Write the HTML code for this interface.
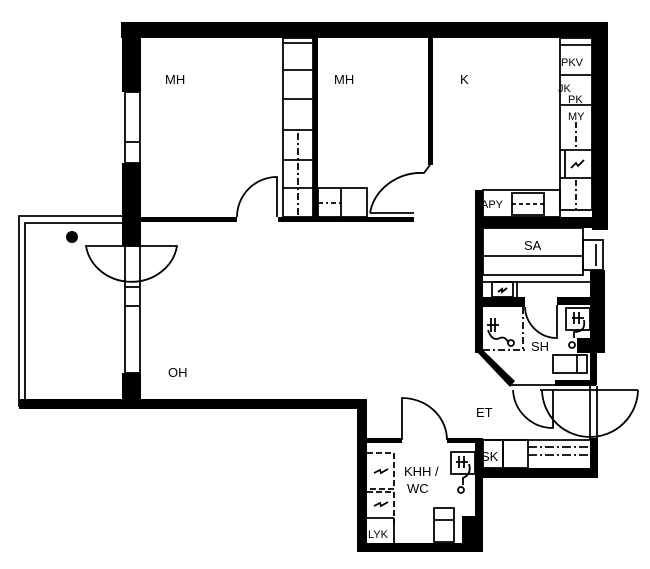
<!DOCTYPE html>
<html><head><meta charset="utf-8"><style>
html,body{margin:0;padding:0;background:#fff}
svg{display:block}
text{font-family:"Liberation Sans",sans-serif;fill:#000}
</style></head><body>
<svg width="650" height="569" viewBox="0 0 650 569" xmlns="http://www.w3.org/2000/svg">
<g fill="#000">
<rect x="121" y="22" width="487" height="16"/>
<rect x="592" y="22" width="16" height="208"/>
<rect x="122" y="22" width="19" height="70"/>
<rect x="122" y="163" width="19" height="83"/>
<rect x="122" y="373" width="19" height="36"/>
<rect x="19" y="399" width="348" height="10"/>
<rect x="140" y="217" width="97" height="5"/>
<rect x="278" y="217" width="136" height="5"/>
<rect x="313" y="38" width="5" height="182"/>
<rect x="428" y="38" width="5" height="127"/>
<rect x="475" y="217" width="133" height="11"/>
<rect x="475" y="190" width="8" height="163"/>
<rect x="590" y="270" width="15" height="83"/>
<rect x="577" y="338" width="28" height="15"/>
<rect x="590" y="353" width="7" height="32"/>
<rect x="483" y="297" width="42" height="10"/>
<rect x="557" y="297" width="33" height="8"/>
<rect x="555" y="380" width="41" height="6"/>
<polygon points="475,350 483,350 515,381 510,387"/>
<rect x="590" y="438" width="8" height="40"/>
<rect x="475" y="468" width="123" height="10"/>
<rect x="357" y="399" width="10" height="153"/>
<rect x="357" y="543" width="126" height="9"/>
<rect x="475" y="438" width="8" height="114"/>
<rect x="367" y="438" width="35" height="5"/>
<rect x="447" y="438" width="28" height="5"/>
<rect x="462" y="516" width="13" height="28"/>
<circle cx="72" cy="237" r="6"/>
</g>
<g fill="none" stroke="#000" stroke-width="1.8">
<polyline points="122,216 19,216 19,407"/>
<polyline points="122,223 25,223 25,400"/>
<rect x="125" y="92" width="15" height="71"/>
<line x1="125" y1="142" x2="140" y2="142"/>
<rect x="125" y="246" width="15" height="127"/>
<line x1="125" y1="287" x2="140" y2="287"/>
<line x1="125" y1="306" x2="140" y2="306"/>
<path d="M86,246 H177 A46,42 0 0 1 86,246 Z"/>
<rect x="337" y="24" width="70" height="12"/>
<line x1="390" y1="24" x2="390" y2="36"/>
<rect x="458" y="24" width="73" height="12"/>
<line x1="472" y1="24" x2="472" y2="36"/>
<path d="M237,217 A40,40 0 0 1 277,177 L277,217"/>
<rect x="283" y="38" width="30" height="179"/>
<line x1="283" y1="43" x2="313" y2="43"/>
<line x1="283" y1="70" x2="313" y2="70"/>
<line x1="283" y1="99" x2="313" y2="99"/>
<line x1="283" y1="130" x2="313" y2="130"/>
<line x1="283" y1="160" x2="313" y2="160"/>
<line x1="283" y1="188" x2="313" y2="188"/>
<line x1="298" y1="133" x2="298" y2="215" stroke-dasharray="7,3,2,3"/>
<rect x="318" y="188" width="49" height="29"/>
<line x1="341" y1="188" x2="341" y2="217"/>
<line x1="318" y1="203" x2="341" y2="203" stroke-dasharray="5,3,2,3"/>
<path d="M370,213 A52,48 0 0 1 424,173 L430,165"/>
<line x1="370" y1="213" x2="414" y2="213"/>
<rect x="560" y="38" width="32" height="172"/>
<line x1="560" y1="45" x2="592" y2="45"/>
<line x1="560" y1="75" x2="592" y2="75"/>
<line x1="560" y1="105" x2="592" y2="105"/>
<line x1="560" y1="150" x2="592" y2="150"/>
<line x1="560" y1="178" x2="592" y2="178"/>
<line x1="576" y1="122" x2="576" y2="148" stroke-dasharray="6,3,2,3"/>
<line x1="576" y1="180" x2="576" y2="210" stroke-dasharray="6,3,2,3"/>
<line x1="565" y1="150" x2="565" y2="178"/>
<path d="M571,168 l5,-5 l2,3 l6,-6" />
<rect x="483" y="190" width="77" height="27"/>
<rect x="512" y="193" width="32" height="22"/>
<line x1="512" y1="204" x2="544" y2="204" stroke-dasharray="4,3"/>
<rect x="483" y="228" width="100" height="47"/>
<line x1="483" y1="256" x2="583" y2="256"/>
<line x1="483" y1="282" x2="590" y2="282"/>
<rect x="583" y="240" width="20" height="30"/>
<line x1="596" y1="244" x2="596" y2="266"/>
<rect x="492" y="282" width="21" height="15"/>
<line x1="517" y1="282" x2="517" y2="297"/>
<path d="M498,292 l4,-3 l0,3 l5,-4" />
<path d="M525,307 A32,32 0 0 0 557,338 L557,305"/>
<line x1="483" y1="350" x2="525" y2="350" stroke-dasharray="7,3,2,3"/>
<line x1="523" y1="307" x2="523" y2="350" stroke-dasharray="7,3,2,3"/>
<path d="M487,325 h12 M491,318 v14 M495,318 v14 M488,330 q4,12 12,8 q5,-2 8,4"/>
<circle cx="511" cy="343" r="3"/>
<rect x="566" y="308" width="24" height="22"/>
<path d="M574,312 v12 M579,312 v12 M572,318 h12 M584,320 q2,12 -10,12 v6"/>
<circle cx="572" cy="345" r="3"/>
<rect x="553" y="355" width="34" height="18"/>
<line x1="577" y1="355" x2="577" y2="373"/>
<line x1="510" y1="385" x2="555" y2="385"/>
<path d="M513,390 A40,40 0 0 0 553,428 L553,390"/>
<line x1="540" y1="390" x2="638" y2="390"/>
<path d="M542,390 A48,48 0 0 0 590,437 A48,48 0 0 0 638,390"/>
<line x1="590" y1="386" x2="590" y2="440"/>
<line x1="597" y1="386" x2="597" y2="440"/>
<line x1="483" y1="440" x2="590" y2="440"/>
<rect x="483" y="440" width="20" height="28"/>
<rect x="503" y="440" width="25" height="28"/>
<line x1="528" y1="447" x2="590" y2="447" stroke-dasharray="9,3,2,3"/>
<line x1="528" y1="455" x2="590" y2="455" stroke-dasharray="9,3,2,3"/>
<path d="M402,440 L402,398 A45,42 0 0 1 447,440"/>
<path d="M367,453 h27 v36 h-27" stroke-dasharray="6,3"/>
<path d="M367,492 h27 v36" stroke-dasharray="6,3"/>
<line x1="367" y1="518" x2="394" y2="518"/>
<line x1="394" y1="518" x2="394" y2="543"/>
<path d="M374,473 l6,-3 l1,3 l7,-4 M374,506 l6,-3 l1,3 l7,-4"/>
<rect x="451" y="452" width="24" height="22"/>
<path d="M459,456 v12 M464,456 v12 M456,462 h12 M469,464 q3,10 -6,14 v7"/>
<circle cx="461" cy="490" r="3"/>
<rect x="434" y="508" width="20" height="34"/>
<line x1="434" y1="520" x2="454" y2="520"/>
</g>
<g font-size="13">
<text x="165" y="84">MH</text>
<text x="334" y="84">MH</text>
<text x="460" y="84">K</text>
<text x="561" y="66" font-size="11">PKV</text>
<text x="558" y="92" font-size="11">JK</text>
<text x="568" y="103" font-size="11">PK</text>
<text x="568" y="120" font-size="11">MY</text>
<text x="481" y="208" font-size="11">APY</text>
<text x="524" y="250">SA</text>
<text x="531" y="351">SH</text>
<text x="168" y="377">OH</text>
<text x="476" y="417">ET</text>
<text x="481" y="461">SK</text>
<text x="404" y="476">KHH /</text>
<text x="407" y="493">WC</text>
<text x="368" y="538" font-size="11">LYK</text>
</g>
</svg>
</body></html>
